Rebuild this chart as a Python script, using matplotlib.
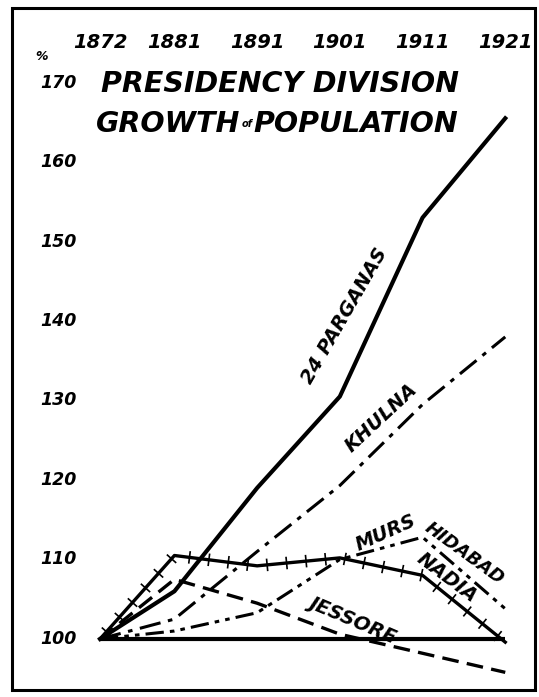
import numpy as np
import matplotlib.pyplot as plt
import matplotlib.patheffects as pe
from matplotlib.patches import Rectangle

# census years and growth (% of 1872 population)
years = [1872, 1881, 1891, 1901, 1911, 1921]
parganas = [100, 106, 119, 130.5, 153, 165.5]
khulna = [100, 102.5, 111, 119.3, 129.5, 138]
murshidabad = [100, 101, 103.3, 110, 112.8, 103.8]
nadia = [100, 110.5, 109.2, 110.2, 108, 99.6]
jessore = [100, 107.5, 104.5, 100.6, 98.2, 95.8]
y_ticks = [100, 110, 120, 130, 140, 150, 160, 170]

W, H = 539, 697
fig = plt.figure(figsize=(W / 100, H / 100), dpi=100)
ax = fig.add_axes([0, 0, 1, 1])
ax.set_xlim(1859.91, 1925.08)
ax.set_ylim(92.70, 180.38)
ax.axis('off')

font = dict(family='DejaVu Sans', fontweight='bold', fontstyle='italic', color='black')

# base line at 100 %
ax.hlines(100, years[0], years[-1], color='black', lw=3)

ax.plot(years, parganas, color='black', lw=3, solid_joinstyle='round')
ax.plot(years, khulna, color='black', lw=2.2, dashes=(7, 2.5, 1.5, 2.5))
ax.plot(years, murshidabad, color='black', lw=2.2, dashes=(6, 2, 1.5, 2, 1.5, 2))
ax.plot(years, jessore, color='black', lw=2.4, dashes=(5, 2.5))
ax.plot(years, nadia, color='black', lw=2.4,
        path_effects=[pe.Normal(),
                      pe.TickedStroke(spacing=14, angle=90, length=0.28, linewidth=1.2),
                      pe.TickedStroke(spacing=14, angle=-90, length=0.28, linewidth=1.2)])

# series labels along the lines
ax.text(1901.6, 140.7, '24 PARGANAS', rotation=60, ha='center', va='center', fontsize=14, **font)
ax.text(1906.0, 127.8, 'KHULNA', rotation=43, ha='center', va='center', fontsize=14, **font)
ax.text(1906.6, 113.3, 'MURS', rotation=24, ha='center', va='center', fontsize=14, **font)
ax.text(1916.1, 110.8, 'HIDABAD', rotation=-36, ha='center', va='center', fontsize=13, **font)
ax.text(1914.0, 107.7, 'NADIA', rotation=-37, ha='center', va='center', fontsize=14, **font)
ax.text(1902.6, 102.4, 'JESSORE', rotation=-23, ha='center', va='center', fontsize=14, **font)

# year labels across the top
for yr in years:
    ax.text(yr, 1 - 43 / H, str(yr), transform=ax.get_xaxis_transform(),
            ha='center', va='center', fontsize=14, **font)

# percentage labels down the left
for v in y_ticks:
    ax.text(40 / W, v, str(v), transform=ax.get_yaxis_transform(),
            ha='left', va='center', fontsize=12.5, **font)
fig.text(42 / W, 1 - 57 / H, '%', ha='center', va='center', fontsize=9, **font)

# title
fig.text(101 / W, 1 - 84 / H, 'PRESIDENCY DIVISION', ha='left', va='center', fontsize=20.5, **font)
fig.text(240 / W, 1 - 124 / H, 'GROWTH', ha='right', va='center', fontsize=20.5, **font)
fig.text(247 / W, 1 - 124 / H, 'of', ha='center', va='center', fontsize=7, **font)
fig.text(253 / W, 1 - 124 / H, 'POPULATION', ha='left', va='center', fontsize=20.5, **font)

# frame
fig.patches.append(Rectangle((12 / W, 7 / H), 523 / W, 682 / H, transform=fig.transFigure,
                             fill=False, edgecolor='black', lw=2.2))

fig.savefig('out.png', dpi=100)
